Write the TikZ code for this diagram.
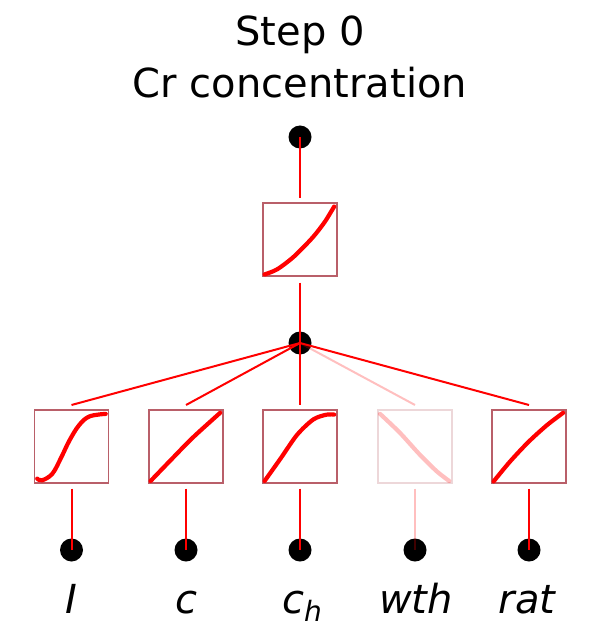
\documentclass[tikz,border=0pt]{standalone}
\usepackage{fontspec}
\setmainfont{DejaVu Sans}
\definecolor{boxred}{RGB}{185,95,105}
\definecolor{kred}{RGB}{255,0,0}
\tikzset{
  dot/.style={circle,fill=black,inner sep=0pt,minimum size=23pt},
  fbox/.style={draw=boxred,line width=1.2pt,minimum width=74pt,minimum height=73pt,inner sep=0pt,fill=white},
  conn/.style={draw=kred,line width=2pt},
  curve/.style={draw=kred,line width=4.2pt,line cap=round,line join=round},
  faded/.style={opacity=0.25},
  lbl/.style={font=\fontsize{40}{40}\selectfont\itshape,anchor=base,inner sep=0pt},
  ttl/.style={font=\fontsize{40}{40}\selectfont,anchor=base,inner sep=0pt}
}
\begin{document}
\begin{tikzpicture}[x=1pt,y=-1pt]
\useasboundingbox (0,0) rectangle (600,636);
% title
\node[ttl] (t1) at (300,46) {Step 0};
\node[ttl] (t2) at (300,98) {Cr concentration};
% nodes
\node[dot] (t) at (300,137) {};
\node[dot] (m) at (300,343) {};
\node[fbox] (tb) at (300,239.5) {};
\node[fbox] (b1) at (71.5,446.5) {};
\node[fbox] (b2) at (186,446.5) {};
\node[fbox] (b3) at (300,446.5) {};
\node[fbox,faded] (b4) at (415,446.5) {};
\node[fbox] (b5) at (529,446.5) {};
\foreach \i/\x in {1/71.5,2/186,3/300,4/415,5/529}{
  \node[dot] (i\i) at (\x,550) {};
  \coordinate (a\i) at (\x,405);
}
% labels
\node[lbl] (l1) at (71.5,613) {I};
\node[lbl] (l2) at (186,613) {c};
\node[lbl] (l3) at (302,613) {c\raisebox{-0.22em}{\fontsize{28}{28}\selectfont h}};
\node[lbl] (l4) at (416,613) {wth};
\node[lbl] (l5) at (527,613) {rat};
% connectors
\draw[conn,shorten >=4pt] (t.center) -- (tb.north);
\draw[conn,shorten <=6pt] (tb.south) -- (m.center);
\draw[conn] (m.center) -- (a1);
\draw[conn] (m.center) -- (a2);
\draw[conn] (m.center) -- (a3);
\draw[conn,faded] (m.center) -- (a4);
\draw[conn] (m.center) -- (a5);
\draw[conn,shorten <=5pt] (b1.south) -- (i1.center);
\draw[conn,shorten <=5pt] (b2.south) -- (i2.center);
\draw[conn,shorten <=5pt] (b3.south) -- (i3.center);
\draw[conn,faded,shorten <=5pt] (b4.south) -- (i4.center);
\draw[conn,shorten <=5pt] (b5.south) -- (i5.center);
% curves
\begin{scope}[shift={(tb.south west)},x=74pt,y=73pt]
  \draw[curve] plot[smooth] coordinates {(0.03,0.03) (0.2,0.1) (0.41,0.26) (0.6,0.45) (0.72,0.585) (0.85,0.76) (0.97,0.96)};
\end{scope}
\begin{scope}[shift={(b1.south west)},x=74pt,y=73pt]
  \draw[curve] plot[smooth,tension=0.6] coordinates {(0.045,0.068) (0.11,0.045) (0.25,0.136) (0.37,0.36) (0.48,0.59) (0.61,0.8) (0.75,0.92) (0.97,0.955)};
\end{scope}
\begin{scope}[shift={(b2.south west)},x=74pt,y=73pt]
  \draw[curve] plot[smooth] coordinates {(0.03,0.036) (0.3,0.32) (0.6,0.63) (0.97,0.97)};
\end{scope}
\begin{scope}[shift={(b3.south west)},x=74pt,y=73pt]
  \draw[curve] plot[smooth] coordinates {(0.03,0.036) (0.25,0.35) (0.47,0.67) (0.69,0.88) (0.87,0.945) (0.97,0.945)};
\end{scope}
\begin{scope}[shift={(b4.south west)},x=74pt,y=73pt]
  \draw[curve,faded] plot[smooth] coordinates {(0.036,0.955) (0.3,0.7) (0.57,0.4) (0.8,0.17) (0.97,0.036)};
\end{scope}
\begin{scope}[shift={(b5.south west)},x=74pt,y=73pt]
  \draw[curve] plot[smooth] coordinates {(0.03,0.03) (0.25,0.3) (0.5,0.57) (0.75,0.8) (0.97,0.97)};
\end{scope}
\end{tikzpicture}
\end{document}
